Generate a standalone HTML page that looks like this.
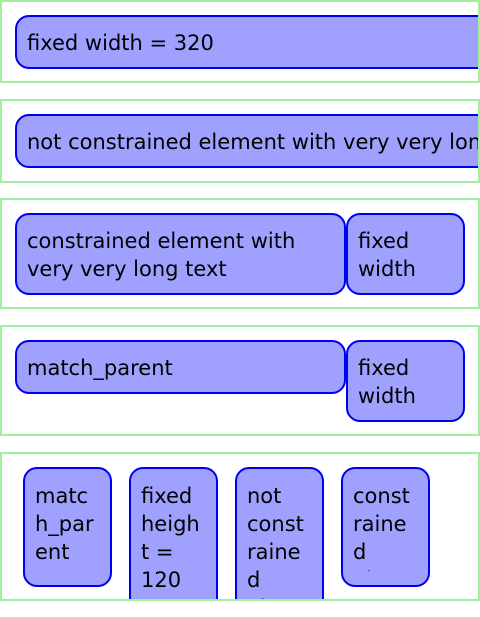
<!DOCTYPE html>
<html><head><meta charset="utf-8"><style>
body{margin:0;width:480px;height:617px;background:#fff;position:relative;overflow:hidden;font-family:"DejaVu Sans",sans-serif;font-size:21px;line-height:28px;color:#000}
.c{position:absolute;left:0;width:476px;border:2px solid #a0f0a0;overflow:hidden}
.b{position:absolute;box-sizing:border-box;background:#a0a0ff;border:2px solid #0000f0;border-radius:14px;padding:12px 10px 11px 10px;overflow:hidden;white-space:normal}
.n{white-space:nowrap}
.w{overflow-wrap:anywhere;padding:13px 15px 11px 10px}
</style></head><body>
<div class="c" style="top:0;height:79px">
 <div class="b n" style="left:13px;top:13px;width:480px;height:54px">fixed width = 320</div>
</div>
<div class="c" style="top:99px;height:80px">
 <div class="b n" style="left:13px;top:13px;width:480px;height:54px">not constrained element with very very long text</div>
</div>
<div class="c" style="top:198px;height:107px">
 <div class="b" style="left:13px;top:13px;width:331px;height:82px">constrained element with very very long text</div>
 <div class="b" style="left:344px;top:13px;width:119px;height:82px">fixed width</div>
</div>
<div class="c" style="top:325px;height:107px">
 <div class="b" style="left:13px;top:13px;width:331px;height:54px">match_parent</div>
 <div class="b" style="left:344px;top:13px;width:119px;height:82px">fixed width</div>
</div>
<div class="c" style="top:452px;height:145px">
 <div class="b w" style="left:21px;top:13px;width:89px;height:120px">match_parent</div>
 <div class="b w" style="left:127px;top:13px;width:89px;height:160px">fixed height = 120</div>
 <div class="b w" style="left:233px;top:13px;width:89px;height:160px">not constrained element</div>
 <div class="b w" style="left:339px;top:13px;width:89px;height:120px"><div style="height:89px;overflow:hidden">constrained element</div></div>
</div>
</body></html>
